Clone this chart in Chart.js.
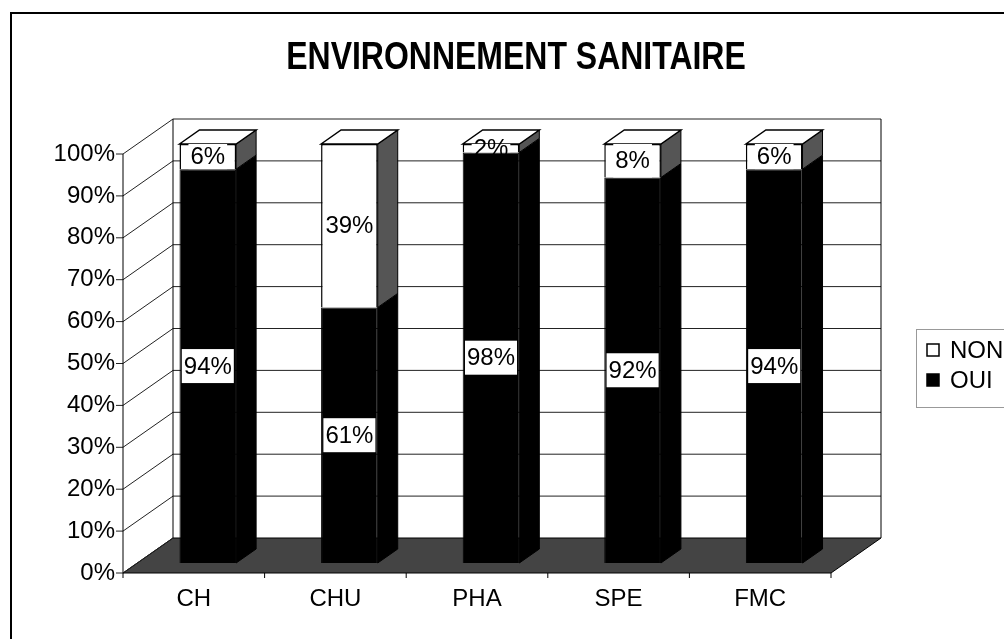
<!DOCTYPE html>
<html><head><meta charset="utf-8">
<script src="https://cdn.jsdelivr.net/npm/chart.js@4.4.1/dist/chart.umd.min.js"></script>
<style>html,body{margin:0;padding:0;background:#fff;}canvas{display:block;}</style>
</head><body>
<canvas id="c" width="1004" height="639"></canvas>
<script>
const chartTitle = 'ENVIRONNEMENT SANITAIRE';
const categories = ['CH', 'CHU', 'PHA', 'SPE', 'FMC'];
const ouiValues = [94, 61, 98, 92, 94];
const nonValues = [6, 39, 2, 8, 6];
const seriesNames = ['OUI', 'NON'];
const yMin = 0, yMax = 100, yStep = 10;

// 3D geometry (pixel offsets relative to bar plane)
const FRONT = {dx: -14, dy: 10};
const BACK = {dx: 36, dy: -25};
const DEPTH = {dx: 20, dy: -14};
const FONT = 'Liberation Sans';

const framePlugin = {
  id: 'frame',
  beforeDraw(chart) {
    const ctx = chart.ctx;
    ctx.save();
    ctx.fillStyle = '#fff';
    ctx.fillRect(0, 0, chart.width, chart.height);
    ctx.strokeStyle = '#000';
    ctx.lineWidth = 2;
    ctx.strokeRect(11, 13, 1020, 640);
    ctx.fillStyle = '#000';
    ctx.font = 'bold 39px "' + FONT + '"';
    ctx.textAlign = 'center';
    ctx.textBaseline = 'middle';
    ctx.translate(516, 58);
    ctx.scale(0.82, 1);
    ctx.fillText(chartTitle, 0, 0);
    ctx.restore();
  }
};

const wallsPlugin = {
  id: 'walls',
  beforeDatasetsDraw(chart) {
    const {ctx, chartArea: a, scales: {y}} = chart;
    const L = a.left, R = a.right;
    const yb = v => y.getPixelForValue(v);
    const y0 = yb(yMin), y1 = yb(yMax);
    ctx.save();
    ctx.lineWidth = 1;
    ctx.strokeStyle = '#000';
    ctx.fillStyle = '#fff';
    ctx.fillRect(L + BACK.dx, y1 + BACK.dy, R - L, y0 - y1);
    // floor
    ctx.beginPath();
    ctx.moveTo(L + FRONT.dx, y0 + FRONT.dy);
    ctx.lineTo(R + FRONT.dx, y0 + FRONT.dy);
    ctx.lineTo(R + BACK.dx, y0 + BACK.dy);
    ctx.lineTo(L + BACK.dx, y0 + BACK.dy);
    ctx.closePath();
    ctx.fillStyle = '#444';
    ctx.fill();
    ctx.stroke();
    // gridlines
    ctx.strokeStyle = '#222';
    for (const t of y.ticks) {
      const p = yb(t.value);
      ctx.beginPath();
      ctx.moveTo(L + FRONT.dx, p + FRONT.dy);
      ctx.lineTo(L + BACK.dx, p + BACK.dy);
      if (t.value !== yMin) ctx.lineTo(R + BACK.dx, p + BACK.dy);
      ctx.stroke();
      ctx.beginPath();
      ctx.moveTo(L + FRONT.dx - 7, p + FRONT.dy);
      ctx.lineTo(L + FRONT.dx, p + FRONT.dy);
      ctx.stroke();
    }
    ctx.strokeStyle = '#000';
    ctx.beginPath();
    ctx.moveTo(L + BACK.dx, y1 + BACK.dy); ctx.lineTo(L + BACK.dx, y0 + BACK.dy);
    ctx.moveTo(R + BACK.dx, y1 + BACK.dy); ctx.lineTo(R + BACK.dx, y0 + BACK.dy);
    ctx.moveTo(L + FRONT.dx, y1 + FRONT.dy); ctx.lineTo(L + FRONT.dx, y0 + FRONT.dy);
    ctx.stroke();
    const n = categories.length;
    ctx.beginPath();
    for (let i = 0; i <= n; i++) {
      const px = L + FRONT.dx + i * (R - L) / n;
      ctx.moveTo(px, y0 + FRONT.dy); ctx.lineTo(px, y0 + FRONT.dy + 5);
    }
    ctx.stroke();
    ctx.restore();
  }
};

const barsPlugin = {
  id: 'bars3d',
  afterDatasetsDraw(chart) {
    const ctx = chart.ctx;
    const sideColors = ['#000', '#555'];
    ctx.save();
    ctx.lineWidth = 1;
    ctx.strokeStyle = '#000';
    const metas = chart.data.datasets.map((d, i) => chart.getDatasetMeta(i));
    const nd = metas.length;
    for (let i = 0; i < categories.length; i++) {
      for (let d = 0; d < nd; d++) {
        const el = metas[d].data[i];
        const {x, y, base, width} = el.getProps(['x', 'y', 'base', 'width'], true);
        const right = x + width / 2, left = x - width / 2;
        ctx.beginPath();
        ctx.moveTo(right, y);
        ctx.lineTo(right + DEPTH.dx, y + DEPTH.dy);
        ctx.lineTo(right + DEPTH.dx, base + DEPTH.dy);
        ctx.lineTo(right, base);
        ctx.closePath();
        ctx.fillStyle = sideColors[d];
        ctx.fill();
        ctx.stroke();
        if (d === nd - 1) {
          ctx.beginPath();
          ctx.moveTo(left, y);
          ctx.lineTo(left + DEPTH.dx, y + DEPTH.dy);
          ctx.lineTo(right + DEPTH.dx, y + DEPTH.dy);
          ctx.lineTo(right, y);
          ctx.closePath();
          ctx.fillStyle = '#fff';
          ctx.fill();
          ctx.lineWidth = 1.5;
          ctx.stroke();
          ctx.lineWidth = 1;
        }
      }
    }
    ctx.font = '24px "' + FONT + '"';
    ctx.textAlign = 'center';
    ctx.textBaseline = 'middle';
    for (let d = 0; d < nd; d++) {
      const vals = chart.data.datasets[d].data;
      metas[d].data.forEach((el, i) => {
        const {x, y, base} = el.getProps(['x', 'y', 'base'], true);
        const txt = vals[i] + '%';
        const tw = ctx.measureText(txt).width;
        const cy = (y + base) / 2;
        const h = Math.min(34, base - y);
        ctx.fillStyle = '#fff';
        ctx.fillRect(x - tw / 2 - 2, cy - h / 2, tw + 4, h);
        ctx.fillStyle = '#000';
        ctx.fillText(txt, x, cy + 1);
      });
    }
    ctx.restore();
  }
};

const legendPlugin = {
  id: 'legend3d',
  afterDraw(chart) {
    const ctx = chart.ctx;
    ctx.save();
    ctx.strokeStyle = '#999';
    ctx.lineWidth = 1;
    ctx.strokeRect(916.5, 329.5, 200, 78);
    ctx.font = '24px "' + FONT + '"';
    ctx.textBaseline = 'middle';
    ctx.textAlign = 'left';
    const ds = chart.data.datasets.slice().reverse();
    ds.forEach((d, k) => {
      const cy = 350 + k * 30;
      ctx.fillStyle = d.backgroundColor;
      ctx.fillRect(927, cy - 6, 12, 12);
      ctx.strokeStyle = '#000';
      ctx.lineWidth = 1.5;
      ctx.strokeRect(927, cy - 6, 12, 12);
      ctx.fillStyle = '#000';
      ctx.fillText(d.label, 950, cy + 1);
    });
    ctx.restore();
  }
};

new Chart(document.getElementById('c'), {
  type: 'bar',
  data: {
    labels: categories,
    datasets: [
      {label: seriesNames[0], data: ouiValues, backgroundColor: '#000', borderColor: '#000', borderWidth: 1},
      {label: seriesNames[1], data: nonValues, backgroundColor: '#fff', borderColor: '#000', borderWidth: 1.5}
    ]
  },
  options: {
    responsive: false,
    animation: false,
    devicePixelRatio: 1,
    barPercentage: 0.4,
    categoryPercentage: 1,
    layout: {padding: {left: 0, top: 144, right: 159, bottom: 0}},
    plugins: {legend: {display: false}, title: {display: false}, tooltip: {enabled: false}},
    scales: {
      x: {
        stacked: true,
        grid: {display: false, drawTicks: false},
        border: {display: false},
        ticks: {padding: 22, labelOffset: FRONT.dx, color: '#000', font: {family: FONT, size: 24}},
        afterFit(s) { s.height = 76; }
      },
      y: {
        stacked: true,
        min: yMin, max: yMax,
        grid: {display: false, drawTicks: false},
        border: {display: false},
        ticks: {stepSize: yStep, padding: 22, labelOffset: FRONT.dy, color: '#000',
          font: {family: FONT, size: 24}, callback: v => v + '%'},
        afterFit(s) { s.width = 137; }
      }
    }
  },
  plugins: [framePlugin, wallsPlugin, barsPlugin, legendPlugin]
});
</script>
</body></html>
